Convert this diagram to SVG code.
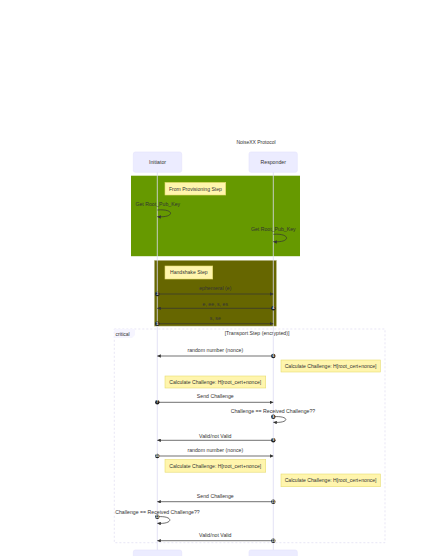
<svg xmlns="http://www.w3.org/2000/svg" width="448" height="556" viewBox="0 0 448 556">
<defs>
<style>
text{font-family:"Liberation Sans",Arial,sans-serif;fill:#333;}
.t{font-size:5.2px;text-anchor:middle;}
.title{font-size:5px;text-anchor:middle;}
.actor rect{fill:#ECECFF;stroke:#e4e2fb;stroke-width:0.6;}
.life{stroke:#dcdaf3;stroke-width:0.8;}
.note rect{fill:#fff5ad;stroke:#e6dc70;stroke-width:0.6;}
.note text{font-size:5.1px;text-anchor:middle;fill:#333;}
.msg{stroke:#333;stroke-width:0.7;fill:none;}
.num{fill:#222;stroke:none;}
.numt{font-size:3.2px;fill:#fff;text-anchor:middle;font-weight:bold;}
</style>
<marker id="ah" viewBox="0 0 10 10" refX="10" refY="5" markerWidth="3.5" markerHeight="3.5" markerUnits="userSpaceOnUse" orient="auto">
<path d="M0,0 L10,5 L0,10 z" fill="#333"/>
</marker>
</defs>
<rect width="448" height="556" fill="#fff"/>
<text class="title" x="256" y="143.5">NoiseXX Protocol</text>

<g id="blocks">
<rect x="131" y="175.7" width="169" height="80.5" fill="#669900"/>
<rect x="154.3" y="260.3" width="122.2" height="65.8" fill="#666600" stroke="#c8c8a0" stroke-width="0.5"/>
<g id="critical">
<rect x="114.3" y="329" width="270.7" height="213.7" fill="none" stroke="#dedbf0" stroke-width="0.7" stroke-dasharray="2,2"/>
<polygon points="114.3,329 135,329 135,335 132,338 114.3,338" fill="#f6f5ff" stroke="none"/>
<text x="115.5" y="335.5" style="font-size:5px">critical</text>
<text class="t" x="257" y="335.2">[Transport Step (encrypted)]</text>
</g>
</g>

<g id="lifelines">
<line class="life" x1="157.3" y1="172" x2="157.3" y2="550"/>
<line class="life" x1="273.3" y1="172" x2="273.3" y2="550"/>
</g>

<g id="initiator" class="actor">
<rect x="133.3" y="152" width="48.4" height="20.3" rx="2"/>
<text class="t" x="157.5" y="163.8">Initiator</text>
</g>
<g id="responder" class="actor">
<rect x="249" y="152" width="48.3" height="20.3" rx="2"/>
<text class="t" x="273.2" y="163.8">Responder</text>
</g>
<g id="initiator-bottom" class="actor">
<rect x="133.3" y="550" width="48.4" height="20.3" rx="2"/>
</g>
<g id="responder-bottom" class="actor">
<rect x="249" y="550" width="48.3" height="20.3" rx="2"/>
</g>

<g id="notes">
<g id="note-prov" class="note"><rect x="165" y="182.5" width="60.7" height="12.5"/><text x="195.4" y="190.6">From Provisioning Step</text></g>
<g id="note-hs" class="note"><rect x="165" y="266" width="47.7" height="13"/><text x="188.8" y="274.4">Handshake Step</text></g>
<g id="note-r1" class="note"><rect x="281" y="360" width="99.3" height="12"/><text x="330.6" y="367.9">Calculate Challenge: H[root_cert+nonce]</text></g>
<g id="note-i1" class="note"><rect x="165" y="376" width="100.7" height="12"/><text x="215.3" y="383.9">Calculate Challenge: H[root_cert+nonce]</text></g>
<g id="note-i2" class="note"><rect x="165" y="459.5" width="100.7" height="12.7"/><text x="215.3" y="467.7">Calculate Challenge: H[root_cert+nonce]</text></g>
<g id="note-r2" class="note"><rect x="281" y="474" width="99.3" height="12.7"/><text x="330.6" y="482.2">Calculate Challenge: H[root_cert+nonce]</text></g>
</g>

<g id="connectors">
<text class="t" x="157.8" y="205.8">Get Root_Pub_Key</text>
<path class="msg" d="M157.3,210 C175,208.5 175,218 157.3,216.7" marker-end="url(#ah)"/>
<text class="t" x="273.3" y="230.5">Get Root_Pub_Key</text>
<path class="msg" d="M273.3,234.3 C291,233 291,243 273.3,241.7" marker-end="url(#ah)"/>

<text class="t" x="215.3" y="290">ephemeral (e)</text>
<line class="msg" x1="157.3" y1="294" x2="273.3" y2="294" marker-end="url(#ah)"/>
<circle class="num" cx="157.3" cy="294" r="2.2"/><text class="numt" x="157.3" y="295.1">3</text>

<text class="t" x="215.3" y="305.5">e, ee, s, es</text>
<line class="msg" x1="273.3" y1="308.3" x2="157.3" y2="308.3" marker-end="url(#ah)"/>
<circle class="num" cx="273.3" cy="308.3" r="2.2"/><text class="numt" x="273.3" y="309.4">4</text>

<text class="t" x="215.3" y="320">s, se</text>
<line class="msg" x1="157.3" y1="323.7" x2="273.3" y2="323.7" marker-end="url(#ah)"/>
<circle class="num" cx="157.3" cy="323.7" r="2.2"/><text class="numt" x="157.3" y="324.8">5</text>

<text class="t" x="215.3" y="351.8">random number (nonce)</text>
<line class="msg" x1="273.3" y1="356" x2="157.3" y2="356" marker-end="url(#ah)"/>
<circle class="num" cx="273.3" cy="356" r="2.2"/><text class="numt" x="273.3" y="357.1">6</text>

<text class="t" x="215.3" y="397.8">Send Challenge</text>
<line class="msg" x1="157.3" y1="402.3" x2="273.3" y2="402.3" marker-end="url(#ah)"/>
<circle class="num" cx="157.3" cy="402.3" r="2.2"/><text class="numt" x="157.3" y="403.4">7</text>

<text class="t" x="273" y="412.8">Challenge == Received Challenge??</text>
<path class="msg" d="M273.3,416.7 C290,415.5 290,423.5 273.3,422.3" marker-end="url(#ah)"/>
<circle class="num" cx="273.3" cy="416.7" r="2.2"/><text class="numt" x="273.3" y="417.8">8</text>

<text class="t" x="215.3" y="437.5">Valid/not Valid</text>
<line class="msg" x1="273.3" y1="440.3" x2="157.3" y2="440.3" marker-end="url(#ah)"/>
<circle class="num" cx="273.3" cy="440.3" r="2.2"/><text class="numt" x="273.3" y="441.4">9</text>

<text class="t" x="215.3" y="451.8">random number (nonce)</text>
<line class="msg" x1="157.3" y1="456" x2="273.3" y2="456" marker-end="url(#ah)"/>
<circle class="num" cx="157.3" cy="456" r="2.2"/><text class="numt" x="157.3" y="457.1">10</text>

<text class="t" x="215.3" y="497.8">Send Challenge</text>
<line class="msg" x1="273.3" y1="501.7" x2="157.3" y2="501.7" marker-end="url(#ah)"/>
<circle class="num" cx="273.3" cy="501.7" r="2.2"/><text class="numt" x="273.3" y="502.8">11</text>

<text class="t" x="157.5" y="513.5">Challenge == Received Challenge??</text>
<path class="msg" d="M157.3,516.7 C174,515.5 174,524.5 157.3,523.3" marker-end="url(#ah)"/>
<circle class="num" cx="157.3" cy="516.7" r="2.2"/><text class="numt" x="157.3" y="517.8">12</text>

<text class="t" x="215.3" y="536.8">Valid/not Valid</text>
<line class="msg" x1="273.3" y1="540.7" x2="157.3" y2="540.7" marker-end="url(#ah)"/>
<circle class="num" cx="273.3" cy="540.7" r="2.2"/><text class="numt" x="273.3" y="541.8">13</text>
</g>
</svg>
